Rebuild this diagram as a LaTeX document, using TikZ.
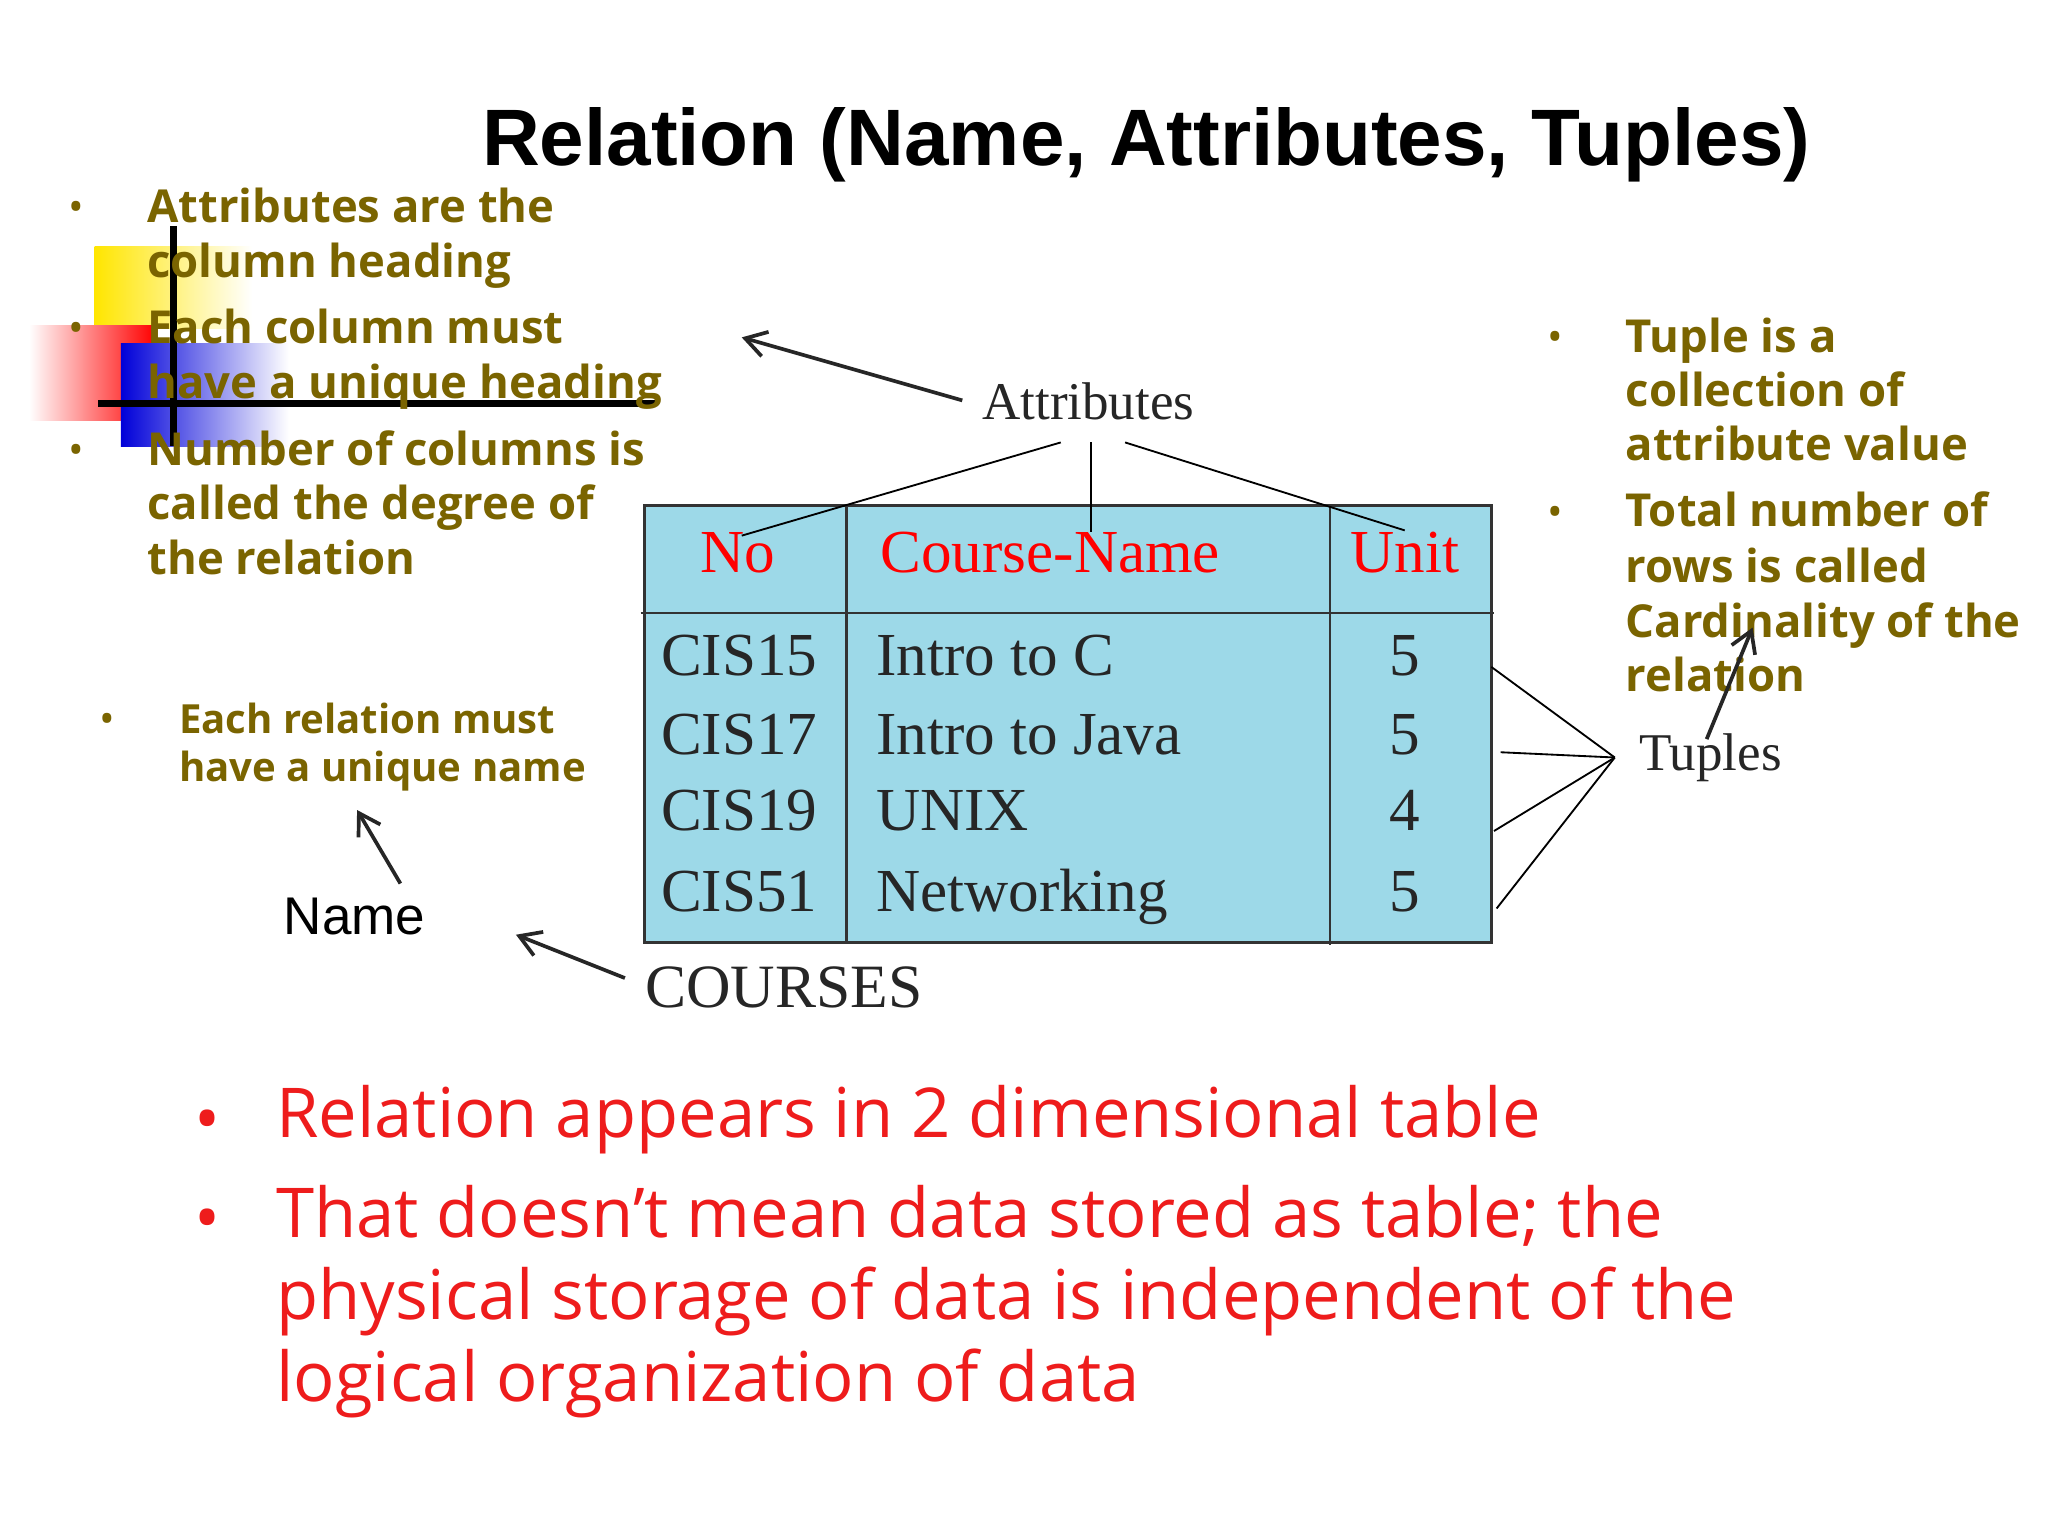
\documentclass[tikz,border=0pt]{standalone}
\usetikzlibrary{arrows.meta}
\usepackage{fontspec}
\setmainfont{Liberation Serif}
\newfontfamily\hd{Liberation Sans}
\newfontfamily\os{Open Sans}
\definecolor{olive}{HTML}{7A6400}
\definecolor{tblue}{HTML}{9DD9E8}
\definecolor{bred}{HTML}{EE1C1C}
\begin{document}
\begin{tikzpicture}[x=0.02cm,y=-0.02cm,
  fix/.style={text height=0.72em,text depth=0.22em},
  ol/.style={fix,anchor=west,inner sep=0,text=olive,font=\os\bfseries\fontsize{19.7}{24}\selectfont},
  olb/.style={anchor=center,inner sep=0,text=olive,font=\os\fontsize{18}{20}\selectfont},
  ols/.style={fix,anchor=west,inner sep=0,text=olive,font=\os\bfseries\fontsize{17.4}{20}\selectfont},
  rd/.style={fix,anchor=west,inner sep=0,text=bred,font=\os\fontsize{29.8}{36}\selectfont},
  rdb/.style={anchor=center,inner sep=0,text=bred,font=\os\fontsize{30}{34}\selectfont},
  cell/.style={fix,inner sep=0,font=\fontsize{26.5}{32}\selectfont,text=black!85},
  hcell/.style={fix,inner sep=0,text=red,font=\fontsize{26.5}{32}\selectfont},
  lab/.style={inner sep=0,font=\fontsize{23}{28}\selectfont,text=black!85},
  ar/.style={-{Straight Barb[length=9pt,width=11pt]},line width=1.6pt,black!85},
  ln/.style={line width=0.8pt}]
\useasboundingbox[fill=white] (0,0) rectangle (1560,1170);
% decoration
\shade[left color=yellow!80!orange,right color=white] (72,188) rectangle (192,250);
\shade[left color=white,right color=red] (22,248) rectangle (118,320);
\shade[left color=blue!85!black,right color=white] (92,262) rectangle (220,340);
\draw[line width=3pt] (132,172) -- (132,340);
\draw[line width=3pt] (75,307) -- (500,307);
% title
\node[inner sep=0,font=\hd\bfseries\fontsize{34.7}{40}\selectfont] (title) at (873,110) {Relation (Name, Attributes, Tuples)};
% left bullets
\foreach \y in {165,257,350}{\node[olb] at (58,\y-4) {•};}
\node[ol] (l1) at (112,165) {Attributes are the};
\node[ol] (l2) at (112,207) {column heading};
\node[ol] (l3) at (112,257) {Each column must};
\node[ol] (l4) at (112,299) {have a unique heading};
\node[ol] (l5) at (112,350) {Number of columns is};
\node[ol] (l6) at (112,391) {called the degree of};
\node[ol] (l7) at (112,433) {the relation};
% right bullets
\foreach \y in {264,397}{\node[olb] at (1185,\y-4) {•};}
\node[ol] (r1) at (1238,264) {Tuple is a};
\node[ol] (r2) at (1238,305) {collection of};
\node[ol] (r3) at (1238,346) {attribute value};
\node[ol] (r4) at (1238,397) {Total number of};
\node[ol] (r5) at (1238,439) {rows is called};
\node[ol] (r6) at (1238,481) {Cardinality of the};
\node[ol] (r7) at (1238,522) {relation};
% each relation
\node[olb] at (82,551) {•};
\node[ols] (e1) at (136,554) {Each relation must};
\node[ols] (e2) at (136,591) {have a unique name};
% table
\draw[fill=tblue,line width=1.2pt,draw=black!80] (491,385) rectangle (1136,718);
\draw[line width=1.2pt,black!80] (488,467) -- (1138,467);
\draw[line width=1.2pt,black!80] (645,385) -- (645,718);
\draw[line width=1.2pt,black!80] (1013,385) -- (1013,720);
\node[hcell] (hNo) at (562,432) {No};
\node[hcell] (hCN) at (800,432) {Course-Name};
\node[hcell] (hU) at (1070,432) {Unit};
\foreach \n/\c/\y in {a/CIS15/510, b/CIS17/570, c/CIS19/628, d/CIS51/690}{
  \node[cell] (n\n) at (563,\y) {\c};
}
\node[cell,anchor=west] (ca) at (667,510) {Intro to C};
\node[cell,anchor=west] (cb) at (667,570) {Intro to Java};
\node[cell,anchor=west] (cc) at (667,628) {UNIX};
\node[cell,anchor=west] (cd) at (667,690) {Networking};
\node[cell] (ua) at (1070,510) {5};
\node[cell] (ub) at (1070,570) {5};
\node[cell] (uc) at (1070,628) {4};
\node[cell] (ud) at (1070,690) {5};
% labels
\node[lab] (attr) at (829,306) {Attributes};
\node[lab] (tup) at (1303,577) {Tuples};
\node[inner sep=0,font=\fontsize{26.7}{32}\selectfont,text=black!85] (courses) at (597,752) {COURSES};
\node[inner sep=0,font=\hd\fontsize{23}{28}\selectfont] (name) at (270,698) {Name};
% attribute lines
\coordinate (aL) at (808,337); \coordinate (aM) at (831,337); \coordinate (aR) at (857,337);
\coordinate (tNo) at (565,408); \coordinate (tCN) at (831,405); \coordinate (tU) at (1070,404);
\draw[ln] (aL) -- (tNo); \draw[ln] (aM) -- (tCN); \draw[ln] (aR) -- (tU);
\coordinate (tp) at (1230,577);
\coordinate (t1) at (1136,508); \coordinate (t2) at (1143,573); \coordinate (t3) at (1138,633); \coordinate (t4) at (1140,692);
\foreach \t in {t1,t2,t3,t4}{\draw[ln] (tp) -- (\t);}
% arrows
\coordinate (aa) at (565,257); \coordinate (aas) at (733,305);
\draw[ar] (aas) -- (aa);
\coordinate (ca1) at (1300,563); \coordinate (ca2) at (1335,478);
\draw[ar] (ca1) -- (ca2);
\coordinate (na1) at (305,673); \coordinate (na2) at (272,617);
\draw[ar] (na1) -- (na2);
\coordinate (co1) at (476,745); \coordinate (co2) at (393,712);
\draw[ar] (co1) -- (co2);
% bottom
\node[rdb] at (158,858) {•};
\node[rdb] at (158,934) {•};
\node[rd] (b1) at (210,862) {Relation appears in 2 dimensional table};
\node[rd] (b2) at (210,938) {That doesn’t mean data stored as table; the};
\node[rd] (b3) at (210,1001) {physical storage of data is independent of the};
\node[rd] (b4) at (210,1063) {logical organization of data};
\end{tikzpicture}
\end{document}
